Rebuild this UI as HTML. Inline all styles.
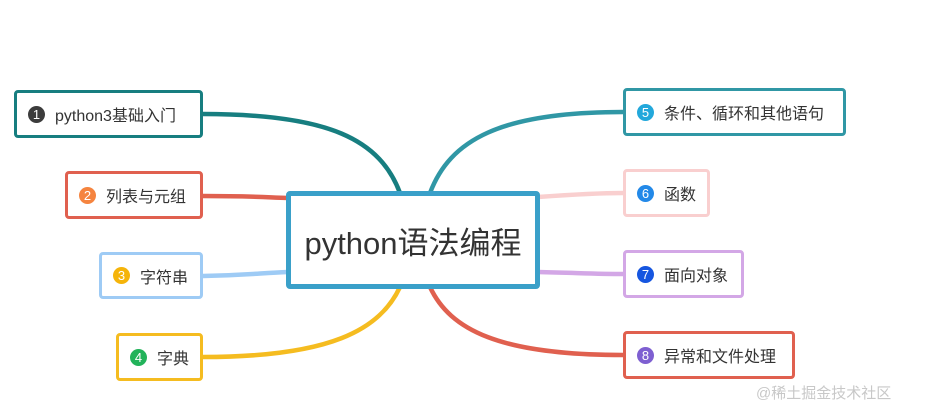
<!DOCTYPE html>
<html><head><meta charset="utf-8"><style>
body{margin:0;width:930px;height:416px;background:#fff;position:relative;overflow:hidden;font-family:"Liberation Sans","Noto Sans CJK SC",sans-serif;}
.b{position:absolute;box-sizing:border-box;border:3px solid;border-radius:4px;background:#fff;display:flex;align-items:center;padding-left:11px;font-size:16px;color:#333;}
.c{width:17px;height:17px;border-radius:50%;color:#fff;font-size:13px;display:inline-flex;align-items:center;justify-content:center;margin-right:10px;flex:none}
svg{position:absolute;left:0;top:0}
</style></head><body>
<svg width="930" height="416" fill="none" stroke-width="4.5">
<path d="M203 114 C330 114 380 140 400 193" stroke="#177e80"/>
<path d="M203 196 C250 196 260 197 288 198" stroke="#e0604f"/>
<path d="M203 276 C250 275 260 273 288 272" stroke="#9ecbf5"/>
<path d="M203 357 C330 357 380 330 400 287" stroke="#f5bc20"/>
<path d="M430 193 C450 140 500 112 623 112" stroke="#3097a5"/>
<path d="M538 197 C580 194 600 193 623 193" stroke="#f9cfcf"/>
<path d="M538 272 C580 273 600 274 623 274" stroke="#d3a7e6"/>
<path d="M430 287 C450 330 500 355 623 355" stroke="#e0604f"/>
</svg>
<div class="b" style="left:14px;top:90px;width:189px;height:48px;border-color:#177e80"><span class="c" style="background:#3c3c3c">1</span>python3基础入门</div>
<div class="b" style="left:65px;top:171px;width:138px;height:48px;border-color:#e0604f"><span class="c" style="background:#f5843f">2</span>列表与元组</div>
<div class="b" style="left:99px;top:252px;width:104px;height:47px;border-color:#9ecbf5"><span class="c" style="background:#f5b40a">3</span>字符串</div>
<div class="b" style="left:116px;top:333px;width:87px;height:48px;border-color:#f5bc20"><span class="c" style="background:#22b35a">4</span>字典</div>
<div class="b" style="left:623px;top:88px;width:223px;height:48px;border-color:#3097a5"><span class="c" style="background:#23a8db">5</span>条件、循环和其他语句</div>
<div class="b" style="left:623px;top:169px;width:87px;height:48px;border-color:#f9cfcf"><span class="c" style="background:#2389e8">6</span>函数</div>
<div class="b" style="left:623px;top:250px;width:121px;height:48px;border-color:#d3a7e6"><span class="c" style="background:#1656e0">7</span>面向对象</div>
<div class="b" style="left:623px;top:331px;width:172px;height:48px;border-color:#e0604f"><span class="c" style="background:#7e5fd1">8</span>异常和文件处理</div>
<div class="b" style="left:286px;top:191px;width:254px;height:98px;border:5px solid #3aa0c9;justify-content:center;padding:0;font-size:31px;color:#333">python语法编程</div>
<div style="position:absolute;left:756px;top:382px;font-size:15px;color:#c8c8c8">@稀土掘金技术社区</div>
</body></html>
